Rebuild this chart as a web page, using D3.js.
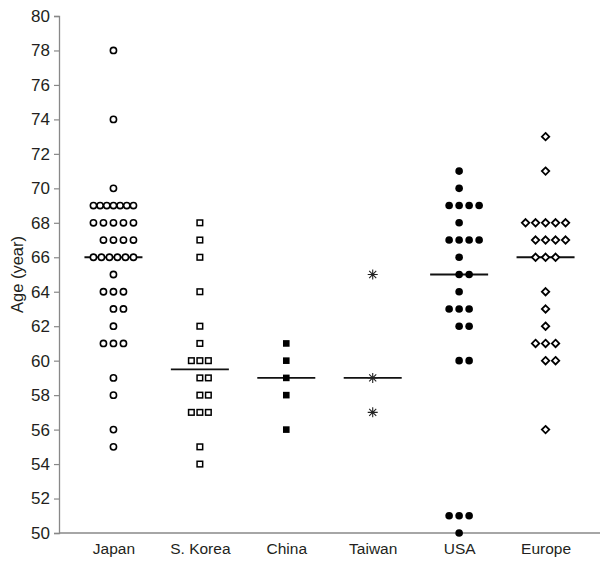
<!DOCTYPE html>
<html>
<head>
<meta charset="utf-8">
<script src="https://cdn.jsdelivr.net/npm/d3@7"></script>
<style>
  html, body { margin: 0; padding: 0; background: #fff; }
  svg { display: block; }
  text { font-family: "Liberation Sans", Arial, Helvetica, sans-serif; fill: #231f20; }
</style>
</head>
<body>
<svg id="chart" width="610" height="565"></svg>
<script>
// ---- data ----
const categories = ["Japan", "S. Korea", "China", "Taiwan", "USA", "Europe"];
const japan = [78, 74, 70, 69, 69, 69, 69, 69, 69, 69, 68, 68, 68, 68, 68, 67, 67, 67, 67,
  66, 66, 66, 66, 66, 66, 65, 64, 64, 64, 63, 63, 62, 61, 61, 61, 59, 58, 56, 55];
const sKorea = [68, 67, 66, 64, 62, 61, 60, 60, 60, 59, 59, 58, 58, 57, 57, 57, 55, 54];
const china = [61, 60, 59, 58, 56];
const taiwan = [65, 59, 57];
const usa = [71, 70, 69, 69, 69, 69, 68, 67, 67, 67, 67, 66, 65, 65, 64, 63, 63, 63, 62, 62,
  60, 60, 51, 51, 51, 50];
const europe = [73, 71, 68, 68, 68, 68, 68, 67, 67, 67, 67, 66, 66, 66, 64, 63, 62, 61, 61, 61,
  60, 60, 56];
const seriesValues = [japan, sKorea, china, taiwan, usa, europe];
const yTicks = [50, 52, 54, 56, 58, 60, 62, 64, 66, 68, 70, 72, 74, 76, 78, 80];
const yTitle = "Age (year)";

// ---- styles ----
const markerStyle = {
  "Japan":    { shape: "circle",   filled: false, spacing: 10 },
  "S. Korea": { shape: "square",   filled: false, spacing: 8.5 },
  "China":    { shape: "square",   filled: true,  spacing: 9 },
  "Taiwan":   { shape: "asterisk", filled: false, spacing: 10 },
  "USA":      { shape: "circle",   filled: true,  spacing: 10 },
  "Europe":   { shape: "diamond",  filled: false, spacing: 10 }
};

const svg = d3.select("#chart");
const margin = { left: 59, right: 10, top: 16, bottom: 32 };
const W = 610, H = 565;

const x = d3.scalePoint().domain(categories)
  .range([margin.left, W - margin.right]).padding(0.63);
const y = d3.scaleLinear().domain([50, 80]).range([H - margin.bottom, margin.top]);

// axes
const yAxis = d3.axisLeft(y).tickValues(yTicks).tickSize(5).tickPadding(4).tickFormat(d3.format("d"));
const gy = svg.append("g").attr("transform", `translate(${margin.left},0)`).call(yAxis);
gy.select(".domain").attr("stroke", "#888").attr("stroke-width", 1.3);
gy.selectAll(".tick line").attr("stroke", "#888").attr("stroke-width", 1.2);
gy.selectAll(".tick text").style("font-size", "17px").attr("fill", "#231f20");

const xAxis = d3.axisBottom(x).tickSize(0).tickPadding(10);
const gx = svg.append("g").attr("transform", `translate(0,${y(50)})`).call(xAxis);
gx.select(".domain").attr("stroke", "#888").attr("stroke-width", 1.3)
  .attr("d", `M${margin.left},0H${W - margin.right}`);
gx.selectAll(".tick text").style("font-size", "15.5px").attr("fill", "#231f20");

svg.append("text")
  .attr("transform", `translate(23,${(y(80) + y(50)) / 2}) rotate(-90)`)
  .attr("text-anchor", "middle")
  .style("font-size", "16.5px")
  .text(yTitle);

// offsets for stacked points in a row
function offsets(n, spacing) {
  if (n > 5) {
    return d3.range(n).map(i => -2 * spacing + i * (4 * spacing) / (n - 1));
  }
  const out = [];
  for (let i = 0; i < n; i++) {
    const k = Math.ceil(i / 2);
    out.push(i % 2 === 1 ? k * spacing : -k * spacing);
  }
  return out.sort((a, b) => a - b);
}

const plot = svg.append("g");

categories.forEach((cat, ci) => {
  const vals = seriesValues[ci];
  const st = markerStyle[cat];
  const cx = x(cat);
  const med = d3.median(vals);

  // median line (drawn first so markers sit over it)
  plot.append("line")
    .attr("x1", cx - 29).attr("x2", cx + 29)
    .attr("y1", y(med)).attr("y2", y(med))
    .attr("stroke", "#111").attr("stroke-width", 1.8);

  const groups = d3.groups(vals, d => d);
  groups.forEach(([v, arr]) => {
    const offs = offsets(arr.length, st.spacing);
    offs.forEach(o => {
      const px = cx + o, py = y(v);
      const g = plot.append("g").attr("transform", `translate(${px},${py})`);
      if (st.shape === "circle") {
        if (st.filled) {
          g.append("circle").attr("r", 3.8).attr("fill", "#000");
        } else {
          g.append("circle").attr("r", 3.1).attr("fill", "#fff")
            .attr("stroke", "#000").attr("stroke-width", 1.6);
        }
      } else if (st.shape === "square") {
        if (st.filled) {
          g.append("rect").attr("x", -3.3).attr("y", -3.3).attr("width", 6.6).attr("height", 6.6)
            .attr("fill", "#000");
        } else {
          g.append("rect").attr("x", -2.8).attr("y", -2.8).attr("width", 5.6).attr("height", 5.6)
            .attr("fill", "#fff").attr("stroke", "#000").attr("stroke-width", 1.5);
        }
      } else if (st.shape === "diamond") {
        g.append("path").attr("d", "M0,-3.7L3.7,0L0,3.7L-3.7,0Z")
          .attr("fill", "#fff").attr("stroke", "#000").attr("stroke-width", 1.8);
      } else if (st.shape === "asterisk") {
        const r = 5, d = r * Math.SQRT1_2;
        g.append("path")
          .attr("d", `M0,${-r}V${r}M${-r},0H${r}M${-d},${-d}L${d},${d}M${-d},${d}L${d},${-d}`)
          .attr("stroke", "#222").attr("stroke-width", 1.1).attr("fill", "none");
      }
    });
  });
});
</script>
</body>
</html>
